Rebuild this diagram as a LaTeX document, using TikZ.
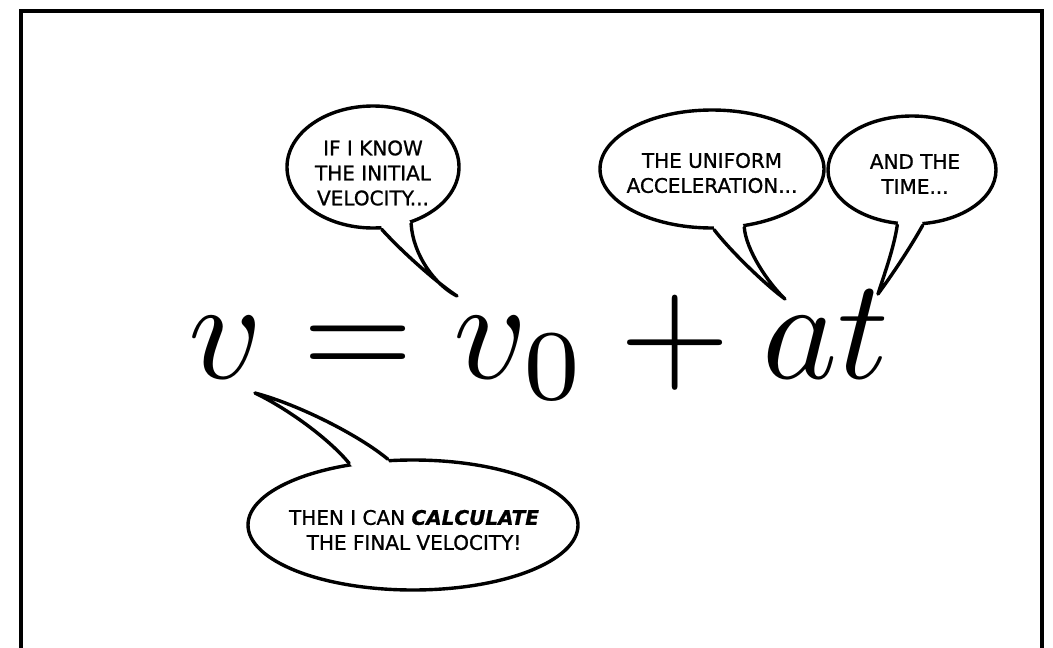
\documentclass[tikz,border=0pt]{standalone}
\usepackage{fontspec}
\usetikzlibrary{shapes.geometric,calc}
\newfontfamily\comicfont[FakeBold=1]{DejaVu Sans}

% tail of a speech bubble: node, start angle, path to the tip and back, end angle
\newcommand{\saytail}[4]{%
  \fill[white] ($(#1.#2)!5pt!(#1.center)$) -- (#1.#2) #3 (#1.#4) -- ($(#1.#4)!5pt!(#1.center)$) -- cycle;
  \draw[talk] (#1.#2) #3 (#1.#4);
}

\begin{document}
\begin{tikzpicture}[x=1pt,y=-1pt,
  bubble/.style={ellipse,draw,fill=white,line width=3.4pt,inner sep=0pt},
  talk/.style={line width=3.4pt,line join=round,line cap=round},
  say/.style={font=\comicfont\fontsize{20}{25}\selectfont,align=center,inner sep=0pt}]
\useasboundingbox (0,0) rectangle (1053,648);
% frame
\draw[line width=3.6pt] (21,652) -- (21,11) -- (1042,11) -- (1042,652);
% the equation
\node[anchor=base,inner sep=0pt] (eq) at (539,378) {\scalebox{14.3}{\fontsize{10}{12}\selectfont$v=v_0+at$}};
% where the tails point
\coordinate (t1) at (457,296);
\coordinate (t2) at (785,299);
\coordinate (t3) at (878,294);
\coordinate (t4) at (255,393);
% bubbles
\node[bubble,minimum width=172pt,minimum height=122pt] (b1) at (373,167) {};
\saytail{b1}{-82}{.. controls (405,255) and (440,285) .. (t1) .. controls (435,285) and (413,255) ..}{-56}
\node[say] (s1) at (373,173) {IF I KNOW\\THE INITIAL\\VELOCITY...};

\node[bubble,minimum width=224pt,minimum height=118pt] (b2) at (712,169) {};
\saytail{b2}{-88}{.. controls (728,248) and (762,282) .. (t2) .. controls (768,283) and (746,250) ..}{-61}
\node[say] (s2) at (712,173) {THE UNIFORM\\ACCELERATION...};

\node[bubble,minimum width=168pt,minimum height=108pt] (b3) at (912,170) {};
\saytail{b3}{-105}{.. controls (894,248) and (884,275) .. (t3) .. controls (892,275) and (910,248) ..}{-79}
\node[say] (s3) at (915,174) {AND THE\\TIME...};

\node[bubble,minimum width=330pt,minimum height=130pt] (b4) at (413,525) {};
\saytail{b4}{111}{.. controls (360,436) and (300,405) .. (t4) .. controls (290,410) and (330,440) ..}{136}
\node[say] (s4) at (414,530) {THEN I CAN \textbf{\itshape CALCULATE}\\THE FINAL VELOCITY!};
\end{tikzpicture}
\end{document}
